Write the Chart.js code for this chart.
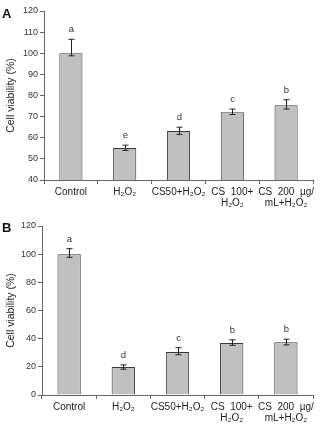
<!DOCTYPE html>
<html><head><meta charset="utf-8">
<script src="https://cdn.jsdelivr.net/npm/chart.js@4/dist/chart.umd.min.js"></script>
<style>
html,body{margin:0;padding:0;background:#fff;width:322px;height:425px;overflow:hidden;font-family:"Liberation Sans",Arial,sans-serif}
.wrap{position:absolute;left:0;width:322px}
.panel{position:absolute;left:2px;font-weight:bold;font-size:13px;color:#111;font-family:"Liberation Sans",Arial,sans-serif}
</style></head>
<body>
<div class="wrap" style="top:0;height:212px"><canvas id="cA" width="322" height="212"></canvas></div>
<div class="wrap" style="top:212px;height:213px"><canvas id="cB" width="322" height="213"></canvas></div>
<div class="panel" style="top:6px">A</div>
<div class="panel" style="top:220px">B</div>
<script>
const categories = ['Control', 'H₂O₂', 'CS50+H₂O₂', ['CS  100+', 'H₂O₂'], ['CS  200  µg/', 'mL+H₂O₂']];

const valuesA = [100, 55.2, 63.2, 72.1, 75.4];
const errLowA = [98.8, 54.0, 61.6, 71.0, 73.6];
const errHighA = [106.6, 56.5, 65.0, 73.6, 78.0];
const lettersA = ['a', 'e', 'd', 'c', 'b'];
const ticksA = [40, 50, 60, 70, 80, 90, 100, 110, 120];

const valuesB = [100, 19.8, 30.5, 37.0, 37.4];
const errLowB = [97.8, 18.3, 28.6, 35.3, 35.6];
const errHighB = [103.9, 21.4, 33.6, 39.2, 39.6];
const lettersB = ['a', 'd', 'c', 'b', 'b'];
const ticksB = [0, 20, 40, 60, 80, 100, 120];

const FONT = '"Liberation Sans", Arial, sans-serif';

const errPlugin = {
  id: 'errs',
  afterDatasetsDraw(chart, args, opts) {
    const ctx = chart.ctx, x = chart.scales.x, y = chart.scales.y;
    ctx.save();
    ctx.strokeStyle = '#222';
    ctx.lineWidth = 1;
    ctx.fillStyle = '#333';
    ctx.font = '9.5px ' + FONT;
    ctx.textAlign = 'center';
    ctx.textBaseline = 'bottom';
    opts.low.forEach((lo, i) => {
      const px = Math.round(x.getPixelForValue(i)) + 0.5;
      const yl = y.getPixelForValue(lo), yh = y.getPixelForValue(opts.high[i]);
      ctx.beginPath();
      ctx.moveTo(px, yl); ctx.lineTo(px, yh);
      ctx.moveTo(px - 3, yl); ctx.lineTo(px + 3, yl);
      ctx.moveTo(px - 3, yh); ctx.lineTo(px + 3, yh);
      ctx.stroke();
      ctx.fillText(opts.letters[i], px, yh - 5);
    });
    ctx.restore();
  }
};

function make(id, values, low, high, letters, ticks, cfg) {
  new Chart(document.getElementById(id), {
    type: 'bar',
    data: {
      labels: categories,
      datasets: [{
        data: values,
        backgroundColor: '#c0c0c0',
        borderColor: '#3a3a3a',
        borderWidth: 1,
        categoryPercentage: 1,
        barPercentage: 0.43
      }]
    },
    options: {
      responsive: false,
      animation: false,
      events: [],
      layout: { padding: { top: cfg.top, right: 9, left: 0, bottom: 0 } },
      plugins: {
        legend: { display: false },
        tooltip: { enabled: false },
        errs: { low: low, high: high, letters: letters }
      },
      scales: {
        x: {
          offset: true,
          grid: { offset: true, drawOnChartArea: false, tickLength: 4, color: '#666', tickColor: '#666' },
          border: { color: '#666', width: 1 },
          ticks: { color: '#222', font: { family: FONT, size: 10, lineHeight: 1.05 }, padding: 3, maxRotation: 0, autoSkip: false },
          afterFit(s) { s.height = cfg.xh; }
        },
        y: {
          min: ticks[0], max: ticks[ticks.length - 1],
          afterBuildTicks(s) { s.ticks = ticks.map(v => ({ value: v })); },
          grid: { drawOnChartArea: false, tickLength: 4, color: '#666', tickColor: '#666' },
          border: { color: '#666', width: 1 },
          ticks: { color: '#333', font: { family: FONT, size: 9 }, padding: 2 },
          title: { display: true, text: 'Cell viability (%)', color: '#222', font: { family: FONT, size: 10.5 }, padding: { top: 5, bottom: 0 } },
          afterFit(s) { s.width = cfg.left; }
        }
      }
    },
    plugins: [errPlugin]
  });
}

make('cA', valuesA, errLowA, errHighA, lettersA, ticksA, { top: 11, xh: 32, left: 44 });
make('cB', valuesB, errLowB, errHighB, lettersB, ticksB, { top: 14, xh: 30, left: 42 });
</script>
</body></html>
